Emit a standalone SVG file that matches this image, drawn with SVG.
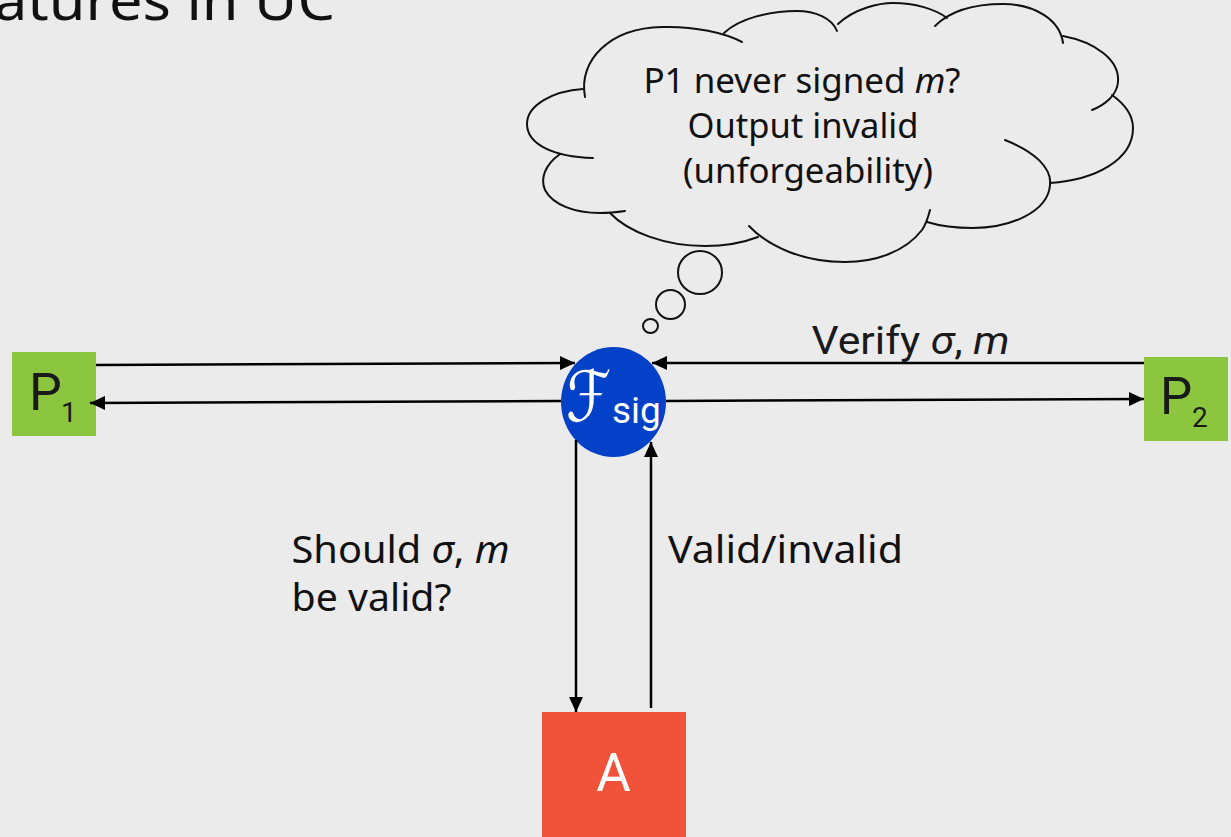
<svg xmlns="http://www.w3.org/2000/svg" width="1231" height="837" viewBox="0 0 1231 837">
  <style>
    .bg { fill: #ebebeb; }
    .lobe { fill: none; stroke: #111; stroke-width: 2; stroke-linecap: round; }
    .bubble { fill: #ebebeb; stroke: #111; stroke-width: 2; }
    .conn { fill: none; stroke: #000; stroke-width: 2.5; }
    .party { fill: #8cc63e; }
    .plabel { font-family: Roboto, "Liberation Sans", sans-serif; fill: #1a1a1a; }
    .label { font-family: "Noto Sans", "Liberation Sans", sans-serif; fill: #111; }
    .math { font-style: italic; }
  </style>
  <defs>
    <marker id="arrow" markerUnits="userSpaceOnUse" markerWidth="16" markerHeight="14" refX="15" refY="7" orient="auto">
      <path d="M0,0 L15,7 L0,14 z" fill="#000"/>
    </marker>
  </defs>

  <rect class="bg" x="0" y="0" width="1231" height="837"/>

  <!-- slide title, clipped at the top-left edge -->
  <g id="title">
    <text class="label" x="-6" y="20" font-size="54" textLength="341" lengthAdjust="spacingAndGlyphs">atures in UC</text>
  </g>

  <!-- thought cloud -->
  <g id="cloud">
    <path class="lobe" d="M583,89 C553,91 527,105 527,124 C527,144 553,157 593,158"/>
    <path class="lobe" d="M585,97 C578,60 610,28 662,27 C695,26 725,33 742,42"/>
    <path class="lobe" d="M724,33 C740,18 770,11 797,11 C815,11 832,18 837,31"/>
    <path class="lobe" d="M838,24 C855,8 880,3 893,3 C915,3 935,9 947,18"/>
    <path class="lobe" d="M935,26 C950,11 975,4 1003,4 C1035,4 1060,20 1063,43"/>
    <path class="lobe" d="M1063,36 C1095,42 1120,60 1118,82 C1117,95 1105,105 1092,110"/>
    <path class="lobe" d="M1112,95 C1126,105 1133,117 1133,128 C1133,160 1095,180 1050,183"/>
    <path class="lobe" d="M1005,140 C1035,152 1052,168 1050,185 C1048,212 1010,228 973,228 C955,228 940,226 927,222"/>
    <path class="lobe" d="M930,210 C928,218 926,224 922,230 C905,252 875,262 845,262 C805,262 770,248 749,226"/>
    <path class="lobe" d="M610,213 C628,232 665,246 705,246 C725,246 745,242 758,237"/>
    <path class="lobe" d="M560,154 C545,165 540,178 545,190 C553,205 575,213 600,213 C610,213 618,212 625,211"/>
    <ellipse class="bubble" cx="700" cy="272.5" rx="22" ry="21.5"/>
    <ellipse class="bubble" cx="670.5" cy="304.5" rx="14.5" ry="14.5"/>
    <ellipse class="bubble" cx="650.5" cy="326" rx="7.5" ry="7"/>
    <text class="label" font-size="35" text-anchor="middle">
      <tspan x="806.5" y="93" textLength="317" lengthAdjust="spacingAndGlyphs">P1 never signed <tspan class="math">m</tspan>?</tspan>
      <tspan x="807.5" y="138" textLength="231" lengthAdjust="spacingAndGlyphs">Output invalid</tspan>
      <tspan x="808" y="183" textLength="250" lengthAdjust="spacingAndGlyphs">(unforgeability)</tspan>
    </text>
  </g>

  <g id="P1">
    <rect class="party" x="12" y="352" width="84" height="84"/>
    <text class="plabel" x="29" y="410" font-size="52">P</text>
    <text class="plabel" x="61" y="422" font-size="28">1</text>
  </g>

  <g id="P2">
    <rect class="party" x="1144" y="357" width="84" height="84"/>
    <text class="plabel" x="1160" y="414" font-size="51">P</text>
    <text class="plabel" x="1192" y="427" font-size="28">2</text>
  </g>

  <g id="Fsig">
    <ellipse cx="613.5" cy="402" rx="52.5" ry="55" fill="#0341c8"/>
    <text x="566" y="421" font-family="'DejaVu Serif', 'DejaVu Sans', serif" font-size="70" fill="#fff" textLength="45" lengthAdjust="spacingAndGlyphs">ℱ</text>
    <text x="612" y="423" font-family="Roboto, 'Liberation Sans', sans-serif" font-size="37" fill="#fff">sig</text>
  </g>

  <g id="A">
    <rect x="542" y="712" width="144" height="130" fill="#f0523a"/>
    <text x="613.5" y="791" font-family="Roboto, 'Liberation Sans', sans-serif" font-size="53" fill="#fff" text-anchor="middle">A</text>
  </g>

  <g id="connectors">
    <path class="conn" d="M96,365 L575,363" marker-end="url(#arrow)"/>
    <path class="conn" d="M561,401 L90,403" marker-end="url(#arrow)"/>
    <path class="conn" d="M1144,363 L652,363" marker-end="url(#arrow)"/>
    <path class="conn" d="M666,401 L1144,399" marker-end="url(#arrow)"/>
    <path class="conn" d="M576,440 L576,712" marker-end="url(#arrow)"/>
    <path class="conn" d="M651,708 L651,442" marker-end="url(#arrow)"/>
  </g>

  <g id="labels">
    <text class="plabel" x="811.5" y="354" font-size="38" textLength="198" lengthAdjust="spacingAndGlyphs">Verify <tspan class="math">σ</tspan>, <tspan class="math">m</tspan></text>
    <text class="label" x="291.5" y="563" font-size="39" textLength="218" lengthAdjust="spacingAndGlyphs">Should <tspan class="math">σ</tspan>, <tspan class="math">m</tspan></text>
    <text class="label" x="291.5" y="611" font-size="39" textLength="160" lengthAdjust="spacingAndGlyphs">be valid?</text>
    <text class="label" x="668" y="563" font-size="39" textLength="235" lengthAdjust="spacingAndGlyphs">Valid/invalid</text>
  </g>
</svg>
